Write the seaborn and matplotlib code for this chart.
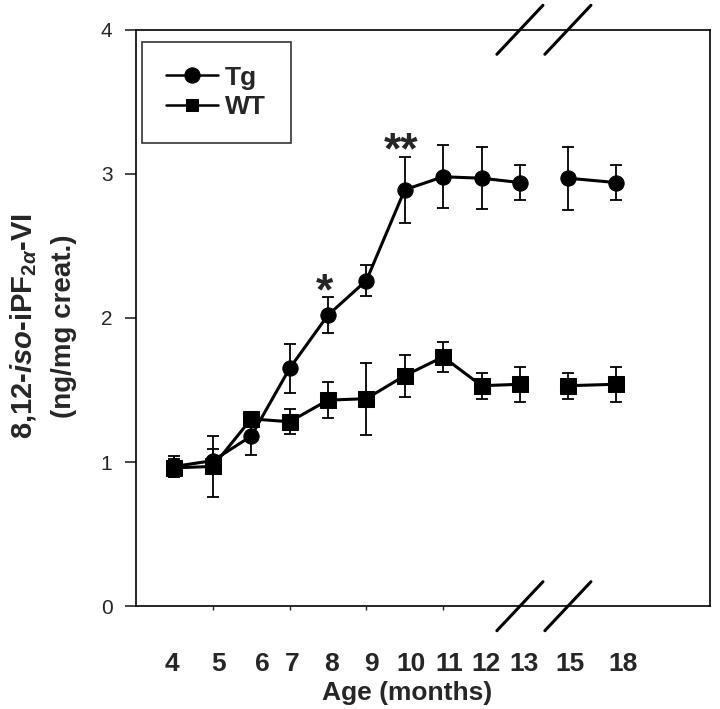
import numpy as np
import pandas as pd
import matplotlib
matplotlib.use("Agg")
import matplotlib.pyplot as plt
import seaborn as sns

# data (mean +/- SEM)
ages = [4, 5, 6, 7, 8, 9, 10, 11, 12, 13, 15, 18]
tg_mean = [0.97, 1.01, 1.18, 1.65, 2.02, 2.26, 2.89, 2.98, 2.97, 2.94, 2.97, 2.94]
tg_sem = [0.07, 0.08, 0.13, 0.17, 0.125, 0.105, 0.23, 0.22, 0.215, 0.12, 0.22, 0.12]
wt_mean = [0.96, 0.97, 1.30, 1.28, 1.43, 1.44, 1.60, 1.73, 1.53, 1.54, 1.53, 1.54]
wt_sem = [0.06, 0.21, 0.04, 0.085, 0.125, 0.25, 0.145, 0.105, 0.09, 0.12, 0.09, 0.12]
groups = ["Tg", "WT"]
signif = {8: "*", 10: "**"}

# broken x axis: 15 and 18 months are squeezed in after 13
axis_pos = [4, 5, 6, 7, 8, 9, 10, 11, 12, 13, 14.25, 15.5]
label_pos = [3.93, 5.15, 6.29, 7.08, 8.1, 9.12, 10.16, 11.15, 12.12, 13.1, 14.3, 15.7]
break_ages = [13, 15]

rows = []
for g, m, s in zip(groups, [tg_mean, wt_mean], [tg_sem, wt_sem]):
    for a, p, mv, sv in zip(ages, axis_pos, m, s):
        rows.append({"group": g, "age": a, "pos": p, "mean": mv, "sem": sv,
                     "seg": 0 if a <= 13 else 1})
df = pd.DataFrame(rows)

sns.set_style("white")
plt.rcParams["font.family"] = ["Liberation Sans", "DejaVu Sans"]
plt.rcParams["mathtext.fontset"] = "custom"
plt.rcParams["mathtext.rm"] = "Liberation Sans:bold"
plt.rcParams["mathtext.it"] = "Liberation Sans:italic:bold"
plt.rcParams["mathtext.bf"] = "Liberation Sans:bold"

fig = plt.figure(figsize=(7.2, 7.09), dpi=100)
ax = fig.add_axes([0.189, 0.145, 0.797, 0.813])

ax.errorbar(df["pos"], df["mean"], yerr=df["sem"], fmt="none", ecolor="black",
            elinewidth=1.3, capsize=4.5, capthick=1.3, zorder=1)
sns.lineplot(data=df, x="pos", y="mean", hue="group", style="group",
             units="seg", estimator=None, sort=False,
             palette={"Tg": "black", "WT": "black"},
             markers={"Tg": "o", "WT": "s"}, dashes=False,
             markersize=11, linewidth=2.2, markeredgecolor="black",
             ax=ax, zorder=3)

ax.set_xlim(3.0, 17.95)
ax.set_ylim(0, 4)

# tick labels
ax.set_xticks(label_pos, labels=[str(a) for a in ages])
ax.set_xticks([5, 7, 9, 11], minor=True)
ax.tick_params(axis="x", which="major", length=0, pad=33, labelsize=19)
ax.tick_params(axis="x", which="minor", bottom=True, length=3, width=1)
for t in ax.get_xticklabels():
    t.set_fontweight("bold")
ax.set_yticks([0, 1, 2, 3, 4])
ax.tick_params(axis="y", left=True, length=8, width=1.2, pad=9, labelsize=15)

for sp in ax.spines.values():
    sp.set_color("black")
    sp.set_linewidth(1.2)

ax.set_xlabel("Age (months)", fontsize=19, fontweight="bold")
ax.xaxis.set_label_coords(0.472, -0.13)
ax.set_ylabel("")
fig.text(0.033, 0.54, r"8,12-$\mathit{iso}$-iPF$_{\mathbf{2}\alpha}$-VI",
         rotation=90, ha="center", va="center", fontsize=21, fontweight="bold")
fig.text(0.089, 0.54, "(ng/mg creat.)", rotation=90, ha="center",
         va="center", fontsize=20, fontweight="bold")

# significance stars
for a, star in signif.items():
    i = ages.index(a)
    ax.text(axis_pos[i] - 0.1, tg_mean[i] + tg_sem[i] - 0.05, star,
            ha="center", va="baseline", fontsize=32, fontweight="bold")

# axis break marks
for a in break_ages:
    c = axis_pos[ages.index(a)]
    for yb in ax.get_ylim():
        ax.plot([c - 0.6, c + 0.6], [yb - 0.17, yb + 0.17], color="black",
                lw=2.2, clip_on=False, zorder=5)

handles, labels = ax.get_legend_handles_labels()
leg = ax.legend(handles, labels, loc="upper left",
                bbox_to_anchor=(0.01, 0.979, 0.26, 0.0), mode="expand",
                frameon=True, fancybox=False, edgecolor="black",
                prop={"weight": "bold", "size": 19}, borderpad=0.9,
                handlelength=2.0, handletextpad=0.25, labelspacing=0.2,
                borderaxespad=0)
leg.get_frame().set_linewidth(1.2)
for h, ms in zip(leg.legend_handles, [11, 9]):
    h.set_linewidth(1.8)
    h.set_markersize(ms)

fig.savefig("out.png", dpi=100)
